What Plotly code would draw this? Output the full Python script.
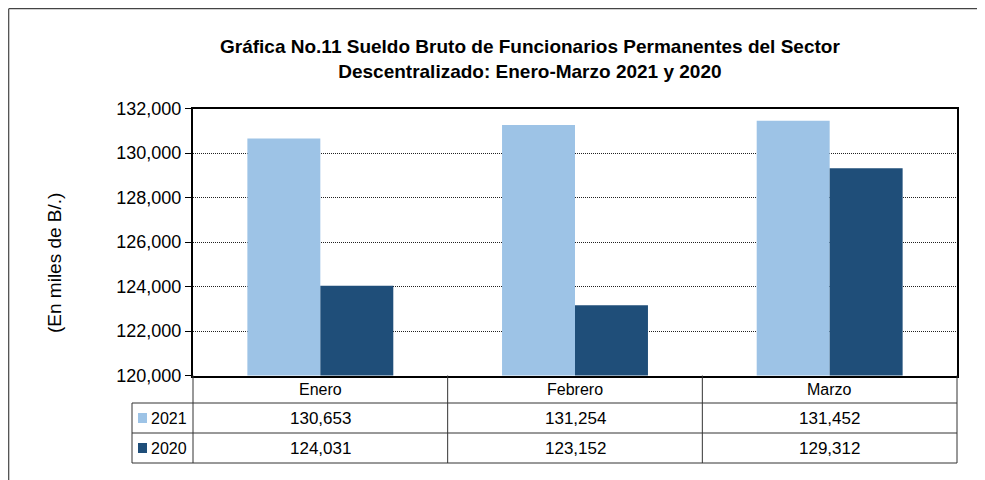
import plotly.graph_objects as go

categories = ["Enero", "Febrero", "Marzo"]
series_names = ["2021", "2020"]
values_2021 = [130653, 131254, 131452]
values_2020 = [124031, 123152, 129312]
colors = ["#9dc3e6", "#1f4e79"]
y_ticks = [120000, 122000, 124000, 126000, 128000, 130000, 132000]

W, H = 985, 480
OFF = 8  # page body margin


def fx(px):
    return (px - OFF) / W


def fy(py):
    return 1 - (py - OFF) / H


PX0, PX1, PY0, PY1 = 193, 957, 108.5, 375.5
FONT = "Liberation Sans, Arial, sans-serif"

fig = go.Figure()
for name, vals, col in zip(series_names, [values_2021, values_2020], colors):
    fig.add_trace(go.Bar(x=categories, y=vals, name=name, marker=dict(color=col, line=dict(width=0))))

fig.update_layout(
    width=W, height=H,
    margin=dict(l=0, r=0, t=0, b=0, autoexpand=False),
    paper_bgcolor="white", plot_bgcolor="white",
    barmode="group", bargap=0.427, bargroupgap=0,
    showlegend=False,
    font=dict(family=FONT, color="black"),
    xaxis=dict(domain=[fx(PX0), fx(PX1)], range=[-0.5, 2.5], showticklabels=False,
               showline=True, linecolor="black", linewidth=2, mirror=True, ticks="",
               showgrid=False, zeroline=False),
    yaxis=dict(domain=[fy(PY1), fy(PY0)], range=[120000, 132000], tickvals=y_ticks,
               tickformat=",d", ticks="outside", ticklen=6, tickcolor="black",
               showline=True, linecolor="black", linewidth=2, mirror=True,
               showgrid=True, gridcolor="#222222", griddash="1px,1px", gridwidth=1,
               tickfont=dict(size=18, family=FONT, color="black"), zeroline=False),
)

shapes = []
# outer border (left and top edges visible)
shapes.append(dict(type="line", xref="paper", yref="paper", x0=fx(8.7), x1=fx(8.7), y0=fy(8.7), y1=fy(700),
                   line=dict(color="#444444", width=1.2)))
shapes.append(dict(type="line", xref="paper", yref="paper", x0=fx(8.7), x1=fx(1300), y0=fy(8.7), y1=fy(8.7),
                   line=dict(color="#444444", width=1.2)))
line_col = "#333333"
# table horizontal lines
for py, x0 in [(403, 132), (433, 132), (463, 132)]:
    shapes.append(dict(type="line", xref="paper", yref="paper", x0=fx(x0), x1=fx(PX1), y0=fy(py), y1=fy(py),
                       line=dict(color=line_col, width=1)))
# table vertical lines
for px in [PX0, PX1]:
    shapes.append(dict(type="line", xref="paper", yref="paper", x0=fx(px), x1=fx(px), y0=fy(PY1), y1=fy(463),
                       line=dict(color=line_col, width=1)))
for xv in [0.5, 1.5]:
    shapes.append(dict(type="line", xref="x", yref="paper", x0=xv, x1=xv, y0=fy(PY1), y1=fy(463),
                       line=dict(color=line_col, width=1)))
shapes.append(dict(type="line", xref="paper", yref="paper", x0=fx(132), x1=fx(132), y0=fy(403), y1=fy(463),
                   line=dict(color=line_col, width=1)))
# legend keys
for i, col in enumerate(colors):
    cy = 418 + 30 * i
    shapes.append(dict(type="rect", xref="paper", yref="paper", x0=fx(138), x1=fx(147), y0=fy(cy - 5), y1=fy(cy + 5),
                       fillcolor=col, line=dict(width=0)))
fig.update_layout(shapes=shapes)

ann = []
ann.append(dict(xref="paper", yref="paper", x=fx(530), y=fy(58.5), xanchor="center", yanchor="middle",
                text="<b>Gráfica No.11 Sueldo Bruto de Funcionarios Permanentes del Sector<br>Descentralizado: Enero-Marzo 2021 y 2020</b>",
                showarrow=False, font=dict(size=19, family=FONT, color="black"), align="center"))
ann.append(dict(xref="paper", yref="paper", x=fx(54), y=fy(263), xanchor="center", yanchor="middle",
                text="(En miles de B/.)", textangle=-90,
                showarrow=False, font=dict(size=19, family=FONT, color="black")))
for c in categories:
    ann.append(dict(xref="x", yref="paper", x=c, y=fy(389.5), xanchor="center", yanchor="middle",
                    text=c, showarrow=False, font=dict(size=16, family=FONT, color="black")))
for i, (name, vals) in enumerate(zip(series_names, [values_2021, values_2020])):
    cy = 418 + 30 * i
    ann.append(dict(xref="paper", yref="paper", x=fx(149), y=fy(cy), text=name, xanchor="left", yanchor="middle",
                    showarrow=False, font=dict(size=16, family=FONT, color="black")))
    for c, v in zip(categories, vals):
        ann.append(dict(xref="x", yref="paper", x=c, y=fy(cy), text=f"{v:,}", xanchor="center", yanchor="middle",
                        showarrow=False, font=dict(size=17, family=FONT, color="black")))
fig.update_layout(annotations=ann)

fig.write_html("out.html")
